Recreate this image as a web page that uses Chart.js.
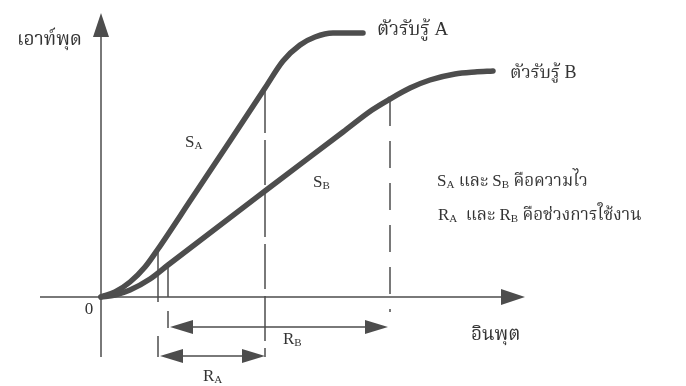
<!DOCTYPE html>
<html>
<head>
<meta charset="utf-8">
<script src="https://cdn.jsdelivr.net/npm/chart.js@4.4.1/dist/chart.umd.min.js"></script>
<style>
html,body{margin:0;padding:0;background:#fff;}
#chart{display:block;}
</style>
</head>
<body>
<canvas id="chart" width="686" height="386"></canvas>
<script>
// response curves of the two sensors (input, output)
const sensorAInput  = [0, 14, 29, 44, 57, 91, 129, 164, 182, 199, 214, 232, 262];
const sensorAOutput = [0, 5, 15, 30, 48, 99, 156, 209, 236, 252, 260, 264, 264];
const sensorBInput  = [0, 14, 29, 49, 67, 164, 242, 271, 289, 309, 329, 354, 374, 392];
const sensorBOutput = [0, 2, 7, 18, 32, 106, 165, 187, 198, 209, 217, 223, 225, 226];

// working range of each sensor on the input axis
const rangeA = [57, 164];
const rangeB = [67, 289];

const xLimits = [-101, 585];
const yLimits = [-89, 297];

const INK = '#4d4d4d';
const TXT = '#333';
const SERIF = '"Liberation Serif", "Times New Roman", "Norasi", "Noto Serif Thai", "Noto Sans Thai Looped", "Noto Sans Thai", serif';

function pts(xs, ys){ return xs.map((x,i)=>({x:x, y:ys[i]})); }
function yAt(xs, ys, x){ return ys[xs.indexOf(x)]; }

// text pieces: [string, isSubscript]
const labels = [
    {x:-19, y:257, align:'right', size:19, parts:[['เอาท์พุด',0]]},
    {x:-12, y:-13, align:'center', size:17, parts:[['0',0]]},
    {x:370, y:-38, align:'left', size:19, parts:[['อินพุต',0]]},
    {x:276, y:267, align:'left', size:19, parts:[['ตัวรับรู้ A',0]]},
    {x:409, y:224, align:'left', size:18, parts:[['ตัวรับรู้ B',0]]},
    {x:84,  y:154, align:'left', size:17, parts:[['S',0],['A',1]]},
    {x:212, y:114, align:'left', size:17, parts:[['S',0],['B',1]]},
    {x:182, y:-43, align:'left', size:17, parts:[['R',0],['B',1]]},
    {x:102, y:-80, align:'left', size:17, parts:[['R',0],['A',1]]},
    {x:336, y:115, align:'left', size:17, parts:[['S',0],['A',1],[' และ ',0],['S',0],['B',1],[' คือความไว',0]]},
    {x:337, y:81,  align:'left', size:17, parts:[['R',0],['A',1],['  และ ',0],['R',0],['B',1],[' คือช่วงการใช้งาน',0]]}
];

function line(ctx, x1, y1, x2, y2, width, dash){
    ctx.save();
    ctx.strokeStyle = INK;
    ctx.lineWidth = width;
    ctx.setLineDash(dash || []);
    ctx.beginPath();
    ctx.moveTo(x1, y1);
    ctx.lineTo(x2, y2);
    ctx.stroke();
    ctx.restore();
}

// filled arrow head with its tip at (x,y), pointing along angle
function head(ctx, x, y, angle, len, half){
    ctx.save();
    ctx.translate(x, y);
    ctx.rotate(angle);
    ctx.fillStyle = INK;
    ctx.beginPath();
    ctx.moveTo(0, 0);
    ctx.lineTo(-len, -half);
    ctx.lineTo(-len, half);
    ctx.closePath();
    ctx.fill();
    ctx.restore();
}

const diagramPlugin = {
    id: 'diagram',
    beforeDatasetsDraw(chart){
        const ctx = chart.ctx, sx = chart.scales.x, sy = chart.scales.y;
        const X = v => sx.getPixelForValue(v), Y = v => sy.getPixelForValue(v);

        // axes
        line(ctx, X(0), Y(-60), X(0), Y(262), 1.5);
        head(ctx, X(0), Y(284), -Math.PI/2, 24, 8);
        line(ctx, X(-61), Y(0), X(402), Y(0), 1.5);
        head(ctx, X(424), Y(0), 0, 24, 8);

        // lower ends of the ranges: solid up to the curves
        const aLowY = yAt(sensorAInput, sensorAOutput, rangeA[0]);
        const bLowY = yAt(sensorBInput, sensorBOutput, rangeB[0]);
        line(ctx, X(rangeA[0]), Y(aLowY), X(rangeA[0]), Y(-5), 1.5);
        line(ctx, X(rangeA[0]), Y(-39), X(rangeA[0]), Y(-60), 1.5);
        line(ctx, X(rangeB[0]), Y(bLowY), X(rangeB[0]), Y(0), 1.5);
        line(ctx, X(rangeB[0]), Y(-14), X(rangeB[0]), Y(-31), 1.5);

        // upper ends of the ranges: dashed
        const aHighY = yAt(sensorAInput, sensorAOutput, rangeA[1]);
        const bHighY = yAt(sensorBInput, sensorBOutput, rangeB[1]);
        line(ctx, X(rangeA[1]), Y(aHighY), X(rangeA[1]), Y(-60), 1.5, [45, 7]);
        line(ctx, X(rangeB[1]), Y(bHighY), X(rangeB[1]), Y(-15), 1.5, [27, 15]);

        // range arrows
        const ra = -59, rb = -30;
        line(ctx, X(rangeA[0]) + 12, Y(ra), X(rangeA[1]) - 12, Y(ra), 1.5);
        head(ctx, X(rangeA[0]) + 2, Y(ra), Math.PI, 23, 7);
        head(ctx, X(rangeA[1]), Y(ra), 0, 23, 7);
        line(ctx, X(rangeB[0]) + 12, Y(rb), X(rangeB[1]) - 12, Y(rb), 1.5);
        head(ctx, X(rangeB[0]) + 2, Y(rb), Math.PI, 23, 7);
        head(ctx, X(rangeB[1]) - 2, Y(rb), 0, 23, 7);
    },
    afterDatasetsDraw(chart){
        const ctx = chart.ctx, sx = chart.scales.x, sy = chart.scales.y;
        ctx.save();
        ctx.fillStyle = TXT;
        ctx.textBaseline = 'middle';
        labels.forEach(l => {
            const big = l.size + 'px ' + SERIF;
            const small = Math.round(l.size * 0.62) + 'px ' + SERIF;
            let w = 0;
            l.parts.forEach(p => { ctx.font = p[1] ? small : big; w += ctx.measureText(p[0]).width; });
            let x = sx.getPixelForValue(l.x);
            const y = sy.getPixelForValue(l.y);
            if (l.align === 'right') x -= w;
            if (l.align === 'center') x -= w / 2;
            ctx.textAlign = 'left';
            l.parts.forEach(p => {
                ctx.font = p[1] ? small : big;
                ctx.fillText(p[0], x, p[1] ? y + 3 : y);
                x += ctx.measureText(p[0]).width;
            });
        });
        ctx.restore();
    }
};

new Chart(document.getElementById('chart'), {
    type: 'line',
    data: {
        datasets: [
            {label:'ตัวรับรู้ A', data: pts(sensorAInput, sensorAOutput)},
            {label:'ตัวรับรู้ B', data: pts(sensorBInput, sensorBOutput)}
        ].map(d => Object.assign(d, {
            borderColor: INK, borderWidth: 5.5, pointRadius: 0,
            cubicInterpolationMode: 'monotone', borderCapStyle: 'round', fill: false
        }))
    },
    options: {
        responsive: false,
        animation: false,
        devicePixelRatio: 1,
        layout: {padding: 0},
        plugins: {legend: {display: false}, tooltip: {enabled: false}},
        scales: {
            x: {type: 'linear', display: false, min: xLimits[0], max: xLimits[1]},
            y: {type: 'linear', display: false, min: yLimits[0], max: yLimits[1]}
        }
    },
    plugins: [diagramPlugin]
});
</script>
</body>
</html>
